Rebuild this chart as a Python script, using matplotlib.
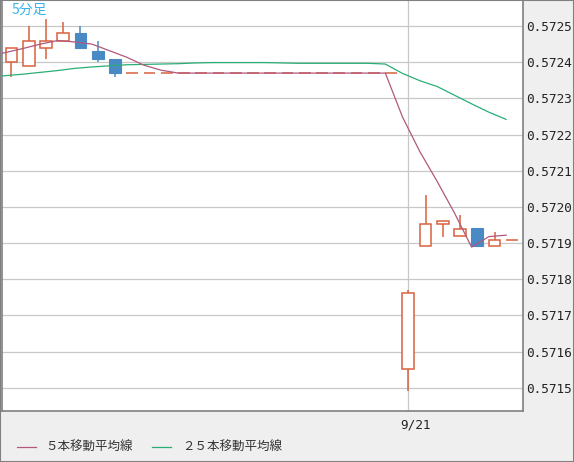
import numpy as np
import matplotlib
matplotlib.use('Agg')
import matplotlib.pyplot as plt
from matplotlib.patches import Rectangle
from matplotlib.lines import Line2D

# candle data (5 min bars), index 23 = 9/21 open
opens = [0.57240, 0.57239, 0.57244, 0.57246, 0.57248, 0.57243, 0.57241] + [0.57237] * 16 + \
        [0.571552, 0.571891, 0.571952, 0.571919, 0.571943, 0.571891, 0.57191]
closes = [0.57244, 0.57246, 0.57246, 0.57248, 0.57244, 0.57241, 0.57237] + [0.57237] * 16 + \
         [0.571762, 0.571952, 0.571961, 0.571938, 0.571891, 0.57191, 0.57191]
highs = [0.57244, 0.57250, 0.57252, 0.57251, 0.57250, 0.57246, 0.57241] + [0.57237] * 16 + \
        [0.571770, 0.572033, 0.571961, 0.571978, 0.571943, 0.57193, 0.57191]
lows = [0.57236, 0.57239, 0.57241, 0.57246, 0.57244, 0.57240, 0.57236] + [0.57237] * 16 + \
       [0.571490, 0.571891, 0.571917, 0.571919, 0.571891, 0.571891, 0.57191]

# moving averages (first value belongs to the bar before index 0)
ma5 = [0.572417, 0.572427, 0.572438, 0.572450, 0.572460, 0.572456, 0.572450, 0.572432,
       0.572414, 0.572392, 0.572378] + [0.57237] * 13 + \
      [0.572248, 0.572153, 0.572071, 0.571984, 0.571889, 0.571918, 0.571922]
ma25 = [0.572359, 0.572363, 0.572367, 0.572372, 0.572377, 0.572383, 0.572387, 0.572390,
        0.572393, 0.572394, 0.572395, 0.572396, 0.572398, 0.572399, 0.572399, 0.572399,
        0.572399, 0.572398, 0.572397, 0.572397, 0.572397, 0.572397, 0.572397, 0.572395,
        0.572369, 0.572349, 0.572333, 0.572309, 0.572285, 0.572262, 0.572242]

yticks = [0.5715, 0.5716, 0.5717, 0.5718, 0.5719, 0.5720, 0.5721, 0.5722, 0.5723, 0.5724, 0.5725]
date_idx = 23
date_label = '9/21'
legend_labels = ['５本移動平均線', '２５本移動平均線']

UP = '#d9623e'
DOWN = '#4a8ac4'
MA5_C = '#b0587e'
MA25_C = '#2aae76'
GRID = '#c8c8c8'

W, H = 574, 462
fig = plt.figure(figsize=(W / 100, H / 100), dpi=100, facecolor='#efefef')
ax = fig.add_axes([2 / W, (H - 411) / H, 521 / W, 411 / H])
ax.set_facecolor('white')

ax.set_xlim(-0.55, 29.65)
ax.set_ylim(0.571436, 0.572572)

for t in yticks:
    ax.axhline(t, color=GRID, lw=0.9, zorder=0)
ax.axvline(date_idx, color=GRID, lw=0.9, zorder=0)

bw = 0.68
for i in range(len(opens)):
    o, c, h, l = opens[i], closes[i], highs[i], lows[i]
    col = DOWN if c < o else UP
    ax.plot([i, i], [l, h], color=col, lw=1.1, zorder=2, solid_capstyle='butt')
    bottom = min(o, c)
    height = abs(c - o)
    if c < o:
        ax.add_patch(Rectangle((i - bw / 2, bottom), bw, height, facecolor=DOWN,
                               edgecolor=DOWN, lw=0.8, zorder=3))
    else:
        ax.add_patch(Rectangle((i - bw / 2, bottom), bw, height, facecolor='white',
                               edgecolor=UP, lw=1.1, zorder=3))

ma_x = np.arange(-1, len(opens)) - 0.33
ax.plot(ma_x, ma25, color=MA25_C, lw=0.9, zorder=4)
ax.plot(ma_x, ma5, color=MA5_C, lw=0.9, zorder=5)

ax.yaxis.tick_right()
ax.set_yticks(yticks)
ax.set_yticklabels(['%.4f' % t for t in yticks], family='DejaVu Sans Mono', fontsize=9.2, color='#222222')
ax.tick_params(axis='y', length=0, pad=2)
ax.set_xticks([])
for s in ['left', 'right', 'bottom']:
    ax.spines[s].set_color('#808080')
    ax.spines[s].set_linewidth(1.2)
ax.spines['top'].set_visible(False)

fig.text(12 / W, 1 - 10 / H, '5分足', ha='left', va='center',
         family=['Noto Sans CJK JP', 'DejaVu Sans'], fontsize=10, color='#3ab4e8')

# date label under the axes
fig.text(415 / W, 1 - 425 / H, date_label, ha='center', va='center',
         family='DejaVu Sans Mono', fontsize=9.2, color='#222222')

# legend drawn in figure pixels
fig.add_artist(Line2D([17 / W, 36 / W], [1 - 447 / H] * 2, color=MA5_C, lw=0.9))
fig.text(45 / W, 1 - 447 / H, legend_labels[0], ha='left', va='center',
         family=['Noto Sans CJK JP', 'DejaVu Sans'], fontsize=9, color='#333333')
fig.add_artist(Line2D([152 / W, 171 / W], [1 - 447 / H] * 2, color=MA25_C, lw=0.9))
fig.text(182 / W, 1 - 447 / H, legend_labels[1], ha='left', va='center',
         family=['Noto Sans CJK JP', 'DejaVu Sans'], fontsize=9, color='#333333')

# outer frame
fig.add_artist(Rectangle((0, 0), 1, 1, transform=fig.transFigure, fill=False,
                         edgecolor='#808080', lw=1.5))

fig.savefig('out.png', dpi=100, facecolor=fig.get_facecolor())
